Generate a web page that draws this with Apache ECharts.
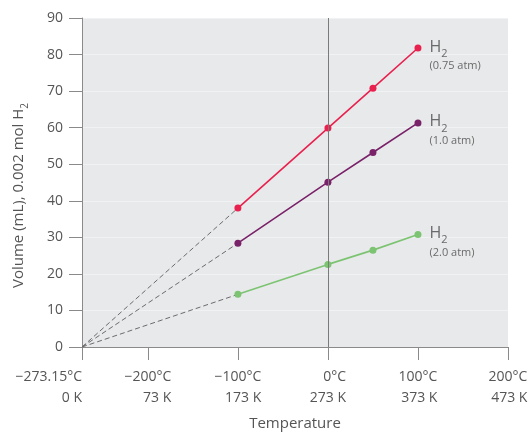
<!DOCTYPE html>
<html><head><meta charset="utf-8">
<script src="https://cdn.jsdelivr.net/npm/echarts@6/dist/echarts.min.js"></script>
<style>html,body{margin:0;padding:0;background:#fff;}#c{width:531px;height:432px;}</style>
</head><body><div id="c"></div>
<script>
// Temperatures (°C) of measured points
const tempsC = [-100, 0, 50, 100];
// Volumes (mL) of 0.002 mol H2
const h2_075 = [38.0, 59.9, 70.8, 81.8];
const h2_100 = [28.4, 45.1, 53.2, 61.3];
const h2_200 = [14.4, 22.6, 26.5, 30.8];
const seriesNames = ['(0.75 atm)', '(1.0 atm)', '(2.0 atm)'];
const absZero = -273.15;
// x tick labels
const xTickValues = [-273.15, -200, -100, 0, 100, 200];
const xTickC = ['−273.15°C', '−200°C', '−100°C', '0°C', '100°C', '200°C'];
const xTickK = ['0 K', '73 K', '173 K', '273 K', '373 K', '473 K'];
const yTicks = [0, 10, 20, 30, 40, 50, 60, 70, 80, 90];

const colors = ['#e8214f', '#7a2269', '#7dc472'];
const datasets = [h2_075, h2_100, h2_200];
const FONT = 'Open Sans';

const series = [];
datasets.forEach((vals, i) => {
  // extrapolation to absolute zero (dashed)
  series.push({
    type: 'line', silent: true, symbol: 'none', z: 2,
    data: [[absZero, 0], [tempsC[0], vals[0]]],
    lineStyle: { color: '#6b6b6b', width: 1, type: [5, 3] }
  });
  const pts = tempsC.map((t, j) => [t, vals[j]]);
  series.push({
    type: 'line', z: 3, symbol: 'circle', symbolSize: 7,
    data: pts.map((p, j) => j === pts.length - 1 ? {
      value: p,
      label: {
        show: true, position: 'right', distance: 8, offset: [0, 8],
        formatter: '{h|H}{s|2}\n{p|' + seriesNames[i] + '}',
        rich: {
          h: { fontFamily: FONT, fontSize: 16, color: '#6a6a6a', verticalAlign: 'bottom', padding: [0, 0, 4, 0], lineHeight: 20 },
          s: { fontFamily: FONT, fontSize: 11, color: '#6a6a6a', verticalAlign: 'bottom', lineHeight: 20 },
          p: { fontFamily: FONT, fontSize: 11, color: '#6a6a6a', lineHeight: 14 }
        }
      }
    } : p),
    itemStyle: { color: colors[i] },
    lineStyle: { color: colors[i], width: 1.6 },
    markLine: i === 0 ? {
      silent: true, symbol: 'none', label: { show: false },
      lineStyle: { color: '#7a7a7a', width: 1, type: 'solid' },
      data: [{ xAxis: 0 }]
    } : undefined
  });
});

const chart = echarts.init(document.getElementById('c'), null, { renderer: 'canvas' });
chart.setOption({
  animation: false,
  textStyle: { fontFamily: FONT },
  grid: { left: 82, right: 23, top: 18, bottom: 85, show: true, backgroundColor: '#e8e9eb', borderWidth: 0,
          outerBoundsMode: 'none', containLabel: false },
  xAxis: {
    type: 'value', min: absZero, max: 200,
    name: 'Temperature', nameLocation: 'middle', nameGap: 69,
    nameTextStyle: { fontFamily: FONT, fontSize: 15, color: '#555' },
    axisLine: { show: true, onZero: false, lineStyle: { color: '#8a8a8a' } },
    axisTick: { show: true, length: 13, customValues: xTickValues, lineStyle: { color: '#8a8a8a' } },
    splitLine: { show: false },
    axisLabel: {
      customValues: xTickValues, margin: 20, color: '#555',
      showMinLabel: true, showMaxLabel: true, hideOverlap: false,
      alignMinLabel: 'right',
      formatter: function (v) {
        const idx = xTickValues.findIndex(t => Math.abs(t - v) < 1e-6);
        if (idx < 0) return '';
        return '{a|' + xTickC[idx] + '}\n{a|' + xTickK[idx] + '}';
      },
      rich: {
        a: { fontFamily: FONT, fontSize: 14, color: '#555', align: 'right', lineHeight: 21 }
      }
    }
  },
  yAxis: {
    type: 'value', min: 0, max: 90, interval: 10,
    name: '{n|Volume (mL), 0.002 mol H}{s|2}', nameLocation: 'middle', nameGap: 52, nameRotate: 90,
    nameTextStyle: {
      padding: [0, 26, 0, 0],
      rich: {
        n: { fontFamily: FONT, fontSize: 15, color: '#555', verticalAlign: 'bottom', padding: [0, 0, 4, 0], lineHeight: 20 },
        s: { fontFamily: FONT, fontSize: 10, color: '#555', verticalAlign: 'bottom', lineHeight: 20 }
      }
    },
    axisLine: { show: true, onZero: false, lineStyle: { color: '#8a8a8a' } },
    axisTick: { show: true, length: 13, lineStyle: { color: '#8a8a8a' } },
    axisLabel: { fontFamily: FONT, fontSize: 14, color: '#555', margin: 19,
      formatter: function (v) { return yTicks.indexOf(v) >= 0 ? String(v) : ''; } },
    splitLine: { show: true, lineStyle: { color: '#f1f2f3', width: 1 } }
  },
  series: series
});
</script>
</body></html>
